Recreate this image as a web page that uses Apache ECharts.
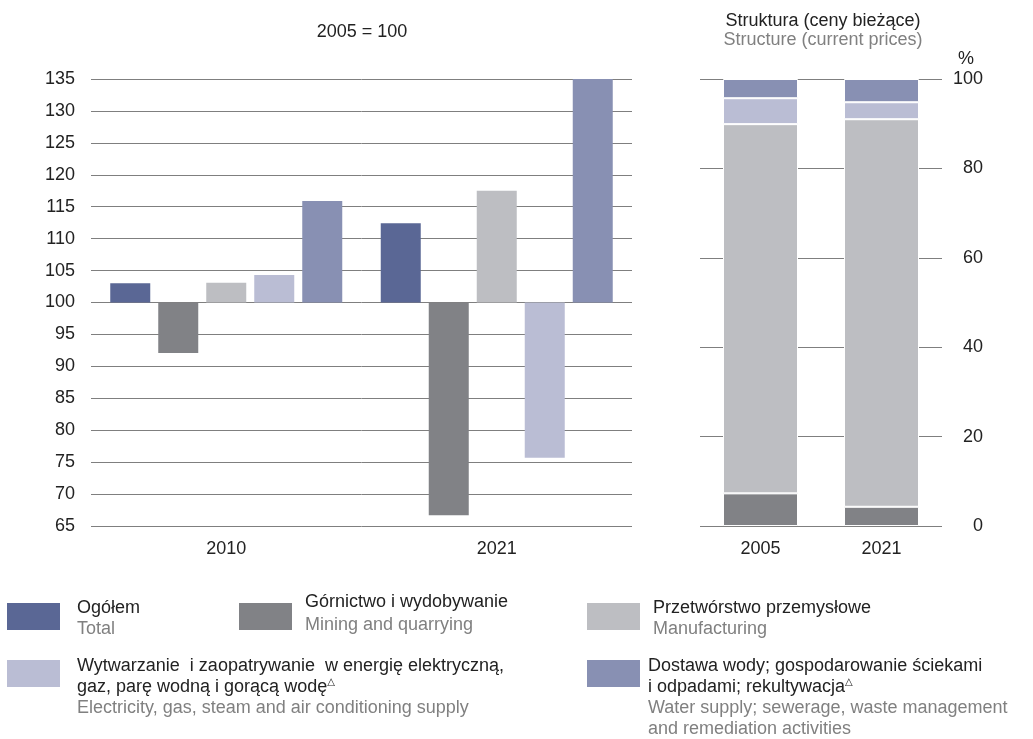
<!DOCTYPE html>
<html>
<head>
<meta charset="utf-8">
<script src="https://cdn.jsdelivr.net/npm/echarts@6/dist/echarts.min.js"></script>
<style>
  html, body { margin: 0; padding: 0; background: #fff; }
  #chart { width: 1033px; height: 739px; }
</style>
</head>
<body>
<div id="chart"></div>
<script>
// index 2005 = 100
const years = ["2010", "2021"];
const ogolem = [103.0, 112.4];
const gornictwo = [92.1, 66.7];
const przetworstwo = [103.1, 117.5];
const wytwarzanie = [104.3, 75.7];
const dostawa = [115.9, 135.0];
const yTicks = { min: 65, max: 135, step: 5 };

// structure, current prices (%)
const structYears = ["2005", "2021"];
const structGornictwo = [7.3, 4.3];
const structPrzetworstwo = [82.6, 86.7];
const structWytwarzanie = [5.8, 3.8];
const structDostawa = [4.3, 5.2];

// legend labels (polish / english)
const namesPl = [
  ["Ogółem"],
  ["Górnictwo i wydobywanie"],
  ["Przetwórstwo przemysłowe"],
  ["Wytwarzanie  i zaopatrywanie  w energię elektryczną,", "gaz, parę wodną i gorącą wodę"],
  ["Dostawa wody; gospodarowanie ściekami", "i odpadami; rekultywacja"],
];
const namesEn = [
  ["Total"],
  ["Mining and quarrying"],
  ["Manufacturing"],
  ["Electricity, gas, steam and air conditioning supply"],
  ["Water supply; sewerage, waste management", "and remediation activities"],
];
const footnote = [false, false, false, true, true];

const colors = ["#5a6795", "#818286", "#bdbec2", "#babdd4", "#8890b3"];
const FONT = "Liberation Sans, Arial, sans-serif";
const FS = 18;

const chart = echarts.init(document.getElementById("chart"));

const base = 100;
const rel = (arr) => arr.map((v) => +(v - base).toFixed(2));

const leftSeries = [ogolem, gornictwo, przetworstwo, wytwarzanie, dostawa].map(
  (arr, i) => ({
    type: "bar",
    xAxisIndex: 0,
    yAxisIndex: 0,
    data: rel(arr),
    barWidth: 40,
    barGap: "20%",
    itemStyle: { color: colors[i] },
    silent: true,
  })
);

const rightSeries = [structGornictwo, structPrzetworstwo, structWytwarzanie, structDostawa].map(
  (arr, i) => ({
    type: "bar",
    xAxisIndex: 1,
    yAxisIndex: 1,
    stack: "s",
    data: arr,
    barWidth: 75,
    itemStyle: { color: colors[i + 1], borderColor: "#fff", borderWidth: 1 },
    silent: true,
  })
);

// legend layout: swatch box, text x, y of first line, line step
const legendPos = [
  { x: 7, y: 603, tx: 77, ty: 608, step: 21 },
  { x: 239, y: 603, tx: 305, ty: 602, step: 23 },
  { x: 587, y: 603, tx: 653, ty: 608, step: 21 },
  { x: 7, y: 660, tx: 77, ty: 666, step: 21 },
  { x: 587, y: 660, tx: 648, ty: 666, step: 21 },
];

const txt = (x, y, text, fill, align, extra) => ({
  type: "text",
  x: x,
  y: y,
  style: Object.assign(
    { text: text, font: FS + "px " + FONT, fill: fill, align: align || "left", verticalAlign: "middle" },
    extra || {}
  ),
});

const graphics = [
  txt(362, 32, "2005 = 100", "#222", "center"),
  txt(823, 21, "Struktura (ceny bieżące)", "#222", "center"),
  txt(823, 40, "Structure (current prices)", "#808080", "center"),
  txt(966, 59, "%", "#222", "center"),
];

legendPos.forEach((p, i) => {
  graphics.push({ type: "rect", shape: { x: p.x, y: p.y, width: 53, height: 27 }, style: { fill: colors[i] } });
  let k = 0;
  namesPl[i].forEach((line, j) => {
    const last = j === namesPl[i].length - 1;
    if (last && footnote[i]) {
      graphics.push(
        txt(p.tx, p.ty + p.step * k, "{p|" + line + "}{s|△}", "#222", "left", {
          rich: {
            p: { font: FS + "px " + FONT, fill: "#222" },
            s: { font: "10px DejaVu Sans", fill: "#222", padding: [0, 0, 10, 0] },
          },
        })
      );
    } else {
      graphics.push(txt(p.tx, p.ty + p.step * k, line, "#222"));
    }
    k++;
  });
  namesEn[i].forEach((line) => {
    graphics.push(txt(p.tx, p.ty + p.step * k, line, "#808080"));
    k++;
  });
});

chart.setOption({
  animation: false,
  textStyle: { fontFamily: FONT },
  grid: [
    { left: 91, top: 79, width: 541, height: 447 },
    { left: 700, top: 79, width: 242, height: 447 },
  ],
  xAxis: [
    {
      type: "category",
      gridIndex: 0,
      data: years,
      axisLine: { show: false, onZero: false },
      axisTick: { show: false },
      axisLabel: { fontSize: FS, color: "#222", margin: 14 },
    },
    {
      type: "category",
      gridIndex: 1,
      data: structYears,
      axisLine: { show: false, onZero: false },
      axisTick: { show: false },
      axisLabel: { fontSize: FS, color: "#222", margin: 14 },
    },
  ],
  yAxis: [
    {
      type: "value",
      gridIndex: 0,
      min: yTicks.min - base,
      max: yTicks.max - base,
      interval: yTicks.step,
      axisLine: { show: false },
      axisTick: { show: false },
      axisLabel: { fontSize: FS, color: "#222", margin: 16, formatter: (v) => String(v + base) },
      splitLine: { lineStyle: { color: "#7f7f7f", width: 1 } },
    },
    {
      type: "value",
      gridIndex: 1,
      position: "right",
      min: 0,
      max: 100,
      interval: 20,
      axisLine: { show: false },
      axisTick: { show: false },
      axisLabel: { fontSize: FS, color: "#222", margin: 41, align: "right" },
      splitLine: { lineStyle: { color: "#7f7f7f", width: 1 } },
    },
  ],
  series: leftSeries.concat(rightSeries),
  graphic: graphics,
});
</script>
</body>
</html>
